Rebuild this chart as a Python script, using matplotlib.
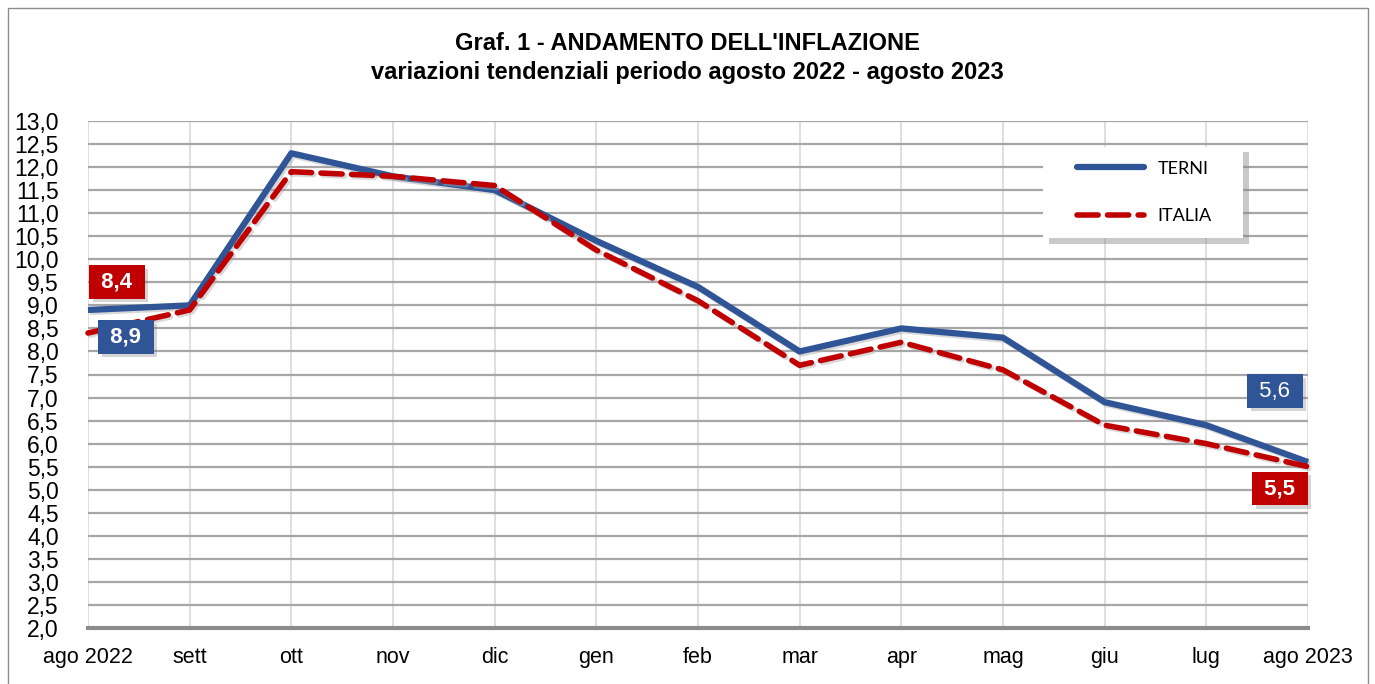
import numpy as np
import matplotlib.pyplot as plt
import matplotlib.patheffects as pe
from matplotlib.patches import Rectangle
from matplotlib.lines import Line2D
from matplotlib.ticker import FuncFormatter, MultipleLocator

plt.rcParams['font.family'] = ['Liberation Sans', 'DejaVu Sans']

mesi = ['ago 2022', 'sett', 'ott', 'nov', 'dic', 'gen', 'feb', 'mar',
        'apr', 'mag', 'giu', 'lug', 'ago 2023']
terni = [8.9, 9.0, 12.3, 11.8, 11.5, 10.4, 9.4, 8.0, 8.5, 8.3, 6.9, 6.4, 5.6]
italia = [8.4, 8.9, 11.9, 11.8, 11.6, 10.2, 9.1, 7.7, 8.2, 7.6, 6.4, 6.0, 5.5]

blu = '#2F5597'
rosso = '#C00000'

fig = plt.figure(figsize=(13.75, 6.84), dpi=100)
ax = fig.add_axes([88/1375, 56/684, 1220/1375, 507/684])

# cornice esterna
fig.patches.append(Rectangle((8/1375, -0.05), 1360/1375, 0.05 + 676/684,
                             transform=fig.transFigure, fill=False,
                             edgecolor='#8c8c8c', linewidth=1.0))

x = np.arange(len(mesi))
ombra = [pe.SimpleLineShadow(offset=(1.5, -1.5), shadow_color='#aaaaaa', alpha=0.45), pe.Normal()]
ax.plot(x, terni, color=blu, linewidth=4.5, solid_capstyle='butt', label='TERNI',
        clip_on=False, zorder=4, path_effects=ombra)
ax.plot(x, italia, color=rosso, linewidth=4.0, dashes=(3.8, 1.7), dash_capstyle='round',
        label='ITALIA', clip_on=False, zorder=5, path_effects=ombra)

ax.set_xlim(0, len(mesi) - 1)
ax.set_ylim(2.0, 13.0)
ax.yaxis.set_major_locator(MultipleLocator(0.5))
ax.yaxis.set_major_formatter(FuncFormatter(lambda v, p: f'{v:.1f}'.replace('.', ',')))
ax.set_xticks(x)
ax.set_xticklabels(mesi)
ax.tick_params(axis='both', length=0)
ax.tick_params(axis='y', pad=21, labelsize=16.5)
ax.tick_params(axis='x', pad=14, labelsize=15.5)

ax.grid(axis='y', color='#a6a6a6', linewidth=1.6)
ax.grid(axis='x', color='#d9d9d9', linewidth=1.2)
ax.set_axisbelow(True)
for s in ['top', 'right', 'left']:
    ax.spines[s].set_visible(False)
ax.spines['bottom'].set_color('#8c8c8c')
ax.spines['bottom'].set_linewidth(3)

fig.text(0.5, 1 - 43/684, "Graf. 1 - ANDAMENTO DELL'INFLAZIONE", ha='center', va='center',
         fontsize=17, fontweight='bold')
fig.text(0.5, 1 - 72/684, 'variazioni tendenziali periodo agosto 2022 - agosto 2023',
         ha='center', va='center', fontsize=17, fontweight='bold')

# etichette dati
def etichetta(i, serie, colore, off, grassetto=True):
    testo = ' ' + f'{serie[i]:.1f}'.replace('.', ',') + ' '
    t = ax.annotate(testo, (x[i], serie[i]),
                    xytext=off, textcoords='offset pixels', ha='center', va='center',
                    color='white', fontsize=16, fontweight='bold' if grassetto else 'normal',
                    bbox=dict(boxstyle='square,pad=0.28', facecolor=colore, edgecolor='none'),
                    zorder=8, annotation_clip=False)
    t.get_bbox_patch().set_path_effects([pe.withSimplePatchShadow(offset=(2.5, -2.5),
                                                                  shadow_rgbFace='#777777', alpha=0.3)])

etichetta(0, italia, rosso, (29, 51))
etichetta(0, terni, blu, (38, -27))
etichetta(-1, terni, blu, (-33, 71), grassetto=False)
etichetta(-1, italia, rosso, (-28, -22))

# legenda con riquadro
box = Rectangle((0.783, 0.769), 0.164, 0.180, transform=ax.transAxes, facecolor='white',
                edgecolor='none', zorder=9)
box.set_path_effects([pe.withSimplePatchShadow(offset=(4, -4), shadow_rgbFace='#888888', alpha=0.45)])
ax.add_patch(box)
maniglie = [Line2D([], [], color=blu, linewidth=4.5, solid_capstyle='round'),
            Line2D([], [], color=rosso, linewidth=4.0, dashes=(3.8, 1.7), dash_capstyle='round')]
leg = ax.legend(maniglie, ['TERNI', 'ITALIA'], loc='center left', bbox_to_anchor=(0.811, 0.859),
                frameon=False, handlelength=3.7, handletextpad=0.75, labelspacing=1.75,
                borderpad=0, borderaxespad=0, prop={'family': 'Lato', 'size': 13})
leg.set_zorder(10)

fig.savefig('out.png', dpi=100)
